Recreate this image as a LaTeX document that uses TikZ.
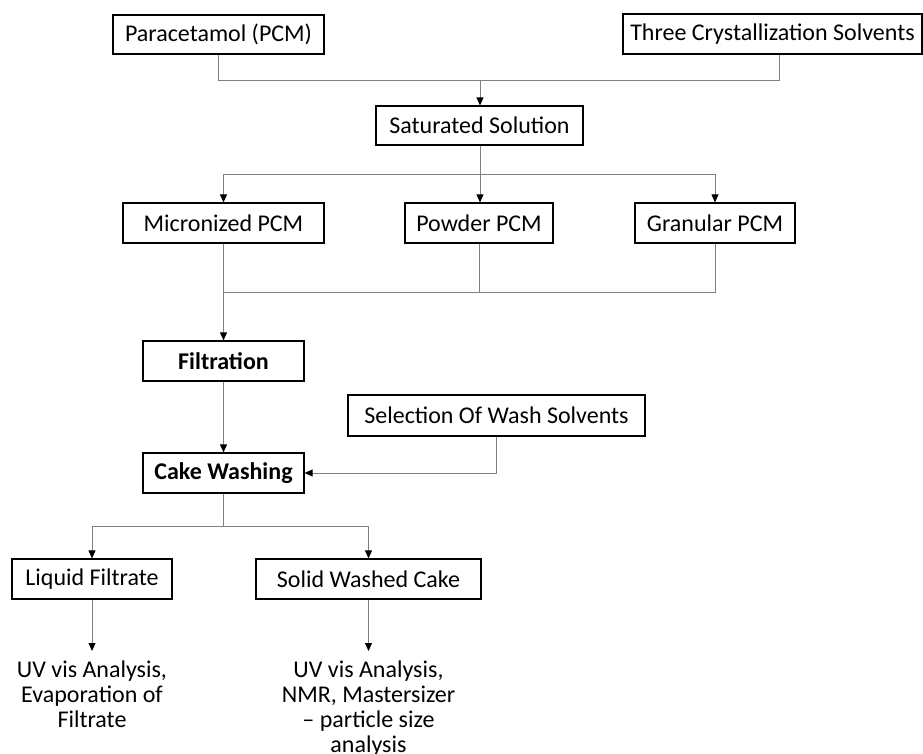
\documentclass[tikz,border=0pt]{standalone}
\usepackage{fontspec}
\setmainfont{Carlito}
\usetikzlibrary{arrows.meta,calc}
\definecolor{linegray}{RGB}{128,128,128}
\tikzset{
  box/.style={draw=black, line width=0.85pt, fill=white, inner sep=0pt, minimum height=30pt, font=\fontsize{18pt}{21pt}\selectfont},
  boldbox/.style={box, font=\fontsize{18pt}{21pt}\selectfont\bfseries},
  conn/.style={draw=linegray, line width=0.75pt},
  arr/.style={conn, -{Triangle[length=6pt,width=5.2pt,color=black]}},
  result/.style={align=center, inner xsep=0pt, inner ysep=7.5pt, anchor=north, font=\fontsize{18pt}{18.75pt}\selectfont}
}
\begin{document}
\begin{tikzpicture}[x=0.75pt,y=-0.75pt]
\useasboundingbox (0,0) rectangle (923,753);
% nodes
\node[box, minimum width=158.25pt, minimum height=29.25pt] (pcm) at (218.5,34.5) {Paracetamol (PCM)};
\node[box, minimum width=224.25pt] (three) at (772.5,34) {Three Crystallization Solvents};
\node[box, minimum width=155.25pt, minimum height=29.25pt] (sat) at (479.5,125.5) {Saturated Solution};
\node[box, minimum width=150.75pt] (mic) at (223.5,223) {Micronized PCM};
\node[box, minimum width=111pt] (pow) at (479,223) {Powder PCM};
\node[box, minimum width=120pt] (gran) at (715,223) {Granular PCM};
\node[boldbox, minimum width=120.75pt] (filt) at (223.5,361) {Filtration};
\node[box, minimum width=222.75pt, minimum height=30.75pt] (sel) at (496.5,415.5) {Selection Of Wash Solvents};
\node[boldbox, minimum width=120.75pt] (cake) at (223.5,473) {Cake Washing};
\node[box, minimum width=120pt] (liq) at (92,579) {Liquid Filtrate};
\node[box, minimum width=168.75pt] (sol) at (368.5,579) {Solid Washed Cake};
\node[result] (res1) at (92,651) {UV vis Analysis,\\Evaporation of\\Filtrate};
\node[result] (res2) at (368.5,651) {UV vis Analysis,\\NMR, Mastersizer\\– particle size\\analysis};
% junctions
\coordinate (j1) at (480,80);
\coordinate (j2) at (480,174);
\coordinate (j3) at (223.5,292);
\coordinate (j4) at (223.5,526);
% connectors
\draw[conn] (pcm.south) |- (j1);
\draw[conn] ([xshift=4.9pt]three.south) |- (j1);
\draw[arr] (j1) -- (j1 |- sat.north);
\draw[conn] (j2 |- sat.south) -- (j2);
\draw[arr] (j2) -| (mic.north);
\draw[arr] (j2) -- (j2 |- pow.north);
\draw[arr] (j2) -| (gran.north);
\draw[conn] (pow.south) |- (j3);
\draw[conn] (gran.south) |- (j3);
\draw[arr] (mic.south) -- (filt.north);
\draw[arr] (filt.south) -- (cake.north);
\draw[arr] (sel.south) |- (cake.east);
\draw[conn] (cake.south) -- (j4);
\draw[arr] (j4) -| (liq.north);
\draw[arr] (j4) -| (sol.north);
\draw[arr] (liq.south) -- (res1.north);
\draw[arr] (sol.south) -- (res2.north);
\end{tikzpicture}
\end{document}
